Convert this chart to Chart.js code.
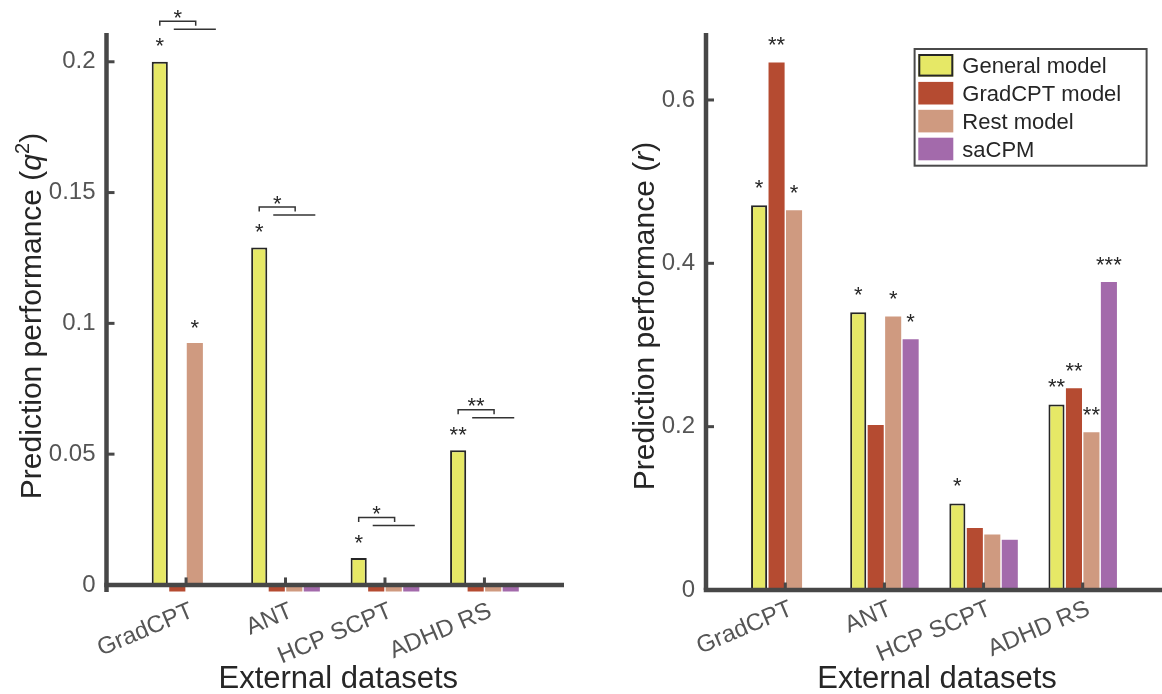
<!DOCTYPE html>
<html>
<head>
<meta charset="utf-8">
<script src="https://cdn.jsdelivr.net/npm/chart.js@4.4.1/dist/chart.umd.min.js"></script>
<style>
    body { margin: 0; background: #fff; width: 1162px; height: 694px; overflow: hidden; position: relative; }
    .panel { position: absolute; top: 0; height: 694px; }
    #leftBox { left: 0; width: 600px; }
    #rightBox { left: 600px; width: 562px; }
</style>
</head>
<body>
<div class="panel" id="leftBox"><canvas id="leftChart" width="600" height="694"></canvas></div>
<div class="panel" id="rightBox"><canvas id="rightChart" width="562" height="694"></canvas></div>
<script>
// === DATA ===
const datasets = ["GradCPT", "ANT", "HCP SCPT", "ADHD RS"];
const models = ["General model", "GradCPT model", "Rest model", "saCPM"];

// left panel: q^2
const q2General = [0.200, 0.129, 0.0103, 0.0515];
const q2GradCPT = [-0.0025, -0.0025, -0.0025, -0.0025];
const q2Rest    = [0.0925, -0.0025, -0.0025, -0.0025];
const q2saCPM   = [null, -0.0025, -0.0025, -0.0025];
const q2Ticks = [0, 0.05, 0.1, 0.15, 0.2];
const q2TickLabels = ["0", "0.05", "0.1", "0.15", "0.2"];

// right panel: r
const rGeneral = [0.471, 0.340, 0.106, 0.227];
const rGradCPT = [0.646, 0.202, 0.076, 0.247];
const rRest    = [0.465, 0.335, 0.068, 0.193];
const rsaCPM   = [null, 0.307, 0.0615, 0.377];
const rTicks = [0, 0.2, 0.4, 0.6];
const rTickLabels = ["0", "0.2", "0.4", "0.6"];

// significance marks per bar
const q2StarsGeneral = ["*", "*", "*", "**"];
const q2StarsGradCPT = ["", "", "", ""];
const q2StarsRest    = ["*", "", "", ""];
const q2StarsSaCPM   = ["", "", "", ""];
const q2Compare      = ["*", "*", "*", "**"];   // general vs. the others

const rStarsGeneral = ["*", "*", "*", "**"];
const rStarsGradCPT = ["**", "", "", "**"];
const rStarsRest    = ["*", "*", "", "**"];
const rStarsSaCPM   = ["", "*", "", "***"];

// === STYLE ===
const FONT = "'Liberation Sans', Helvetica, Arial, sans-serif";
const AXIS_COLOR = "#474747";
const TEXT_DARK = "#262626";
const TICK_COLOR = "#555555";
const COLORS = ["#e6e866", "#b54b31", "#cf9a80", "#a36aab"];

function series(vals) {
    return vals.map((v, i) => ({ x: i + 1, y: v }));
}

function makeDatasets(lists) {
    return lists.map((vals, d) => ({
        label: models[d],
        data: series(vals),
        backgroundColor: COLORS[d],
        borderColor: d === 0 ? TEXT_DARK : COLORS[d],
        borderWidth: d === 0 ? 2 : 0,
        borderSkipped: false,
        categoryPercentage: 0.705,
        barPercentage: 0.92
    }));
}

function seg(ctx, x1, y1, x2, y2) {
    ctx.beginPath();
    ctx.moveTo(x1, y1);
    ctx.lineTo(x2, y2);
    ctx.stroke();
}

function star(ctx, text, x, cy) {
    ctx.font = "22px " + FONT;
    ctx.fillStyle = TEXT_DARK;
    ctx.textAlign = "center";
    ctx.textBaseline = "alphabetic";
    ctx.fillText(text, x, cy + 0.575 * 22);
}

function drawYTitle(ctx, parts, bx, cy) {
    const fs = 30;
    const fontOf = p => p.sup ? "20px " + FONT : (p.italic ? "italic " : "") + fs + "px " + FONT;
    ctx.save();
    let total = 0;
    const widths = parts.map(p => { ctx.font = fontOf(p); const w = ctx.measureText(p.t).width; total += w; return w; });
    ctx.translate(bx, cy);
    ctx.rotate(-Math.PI / 2);
    ctx.fillStyle = TEXT_DARK;
    ctx.textAlign = "left";
    ctx.textBaseline = "alphabetic";
    let x = -total / 2;
    parts.forEach((p, k) => {
        ctx.font = fontOf(p);
        ctx.fillText(p.t, x, p.sup ? -12 : 0);
        x += widths[k];
    });
    ctx.restore();
}

// === DECORATION PLUGIN: axes, inward ticks, stars, brackets, titles, legend ===
const decor = {
    id: "decor",
    afterDatasetsDraw(chart, args, o) {
        const { ctx, chartArea: a, scales } = chart;
        const xs = scales.x, ys = scales.y;
        const y0 = ys.getPixelForValue(0);
        ctx.save();
        ctx.strokeStyle = AXIS_COLOR;
        ctx.lineCap = "butt";

        ctx.lineWidth = 3;
        o.yTicks.forEach(v => { const y = ys.getPixelForValue(v); seg(ctx, a.left, y, a.left + 8, y); });
        xs.ticks.forEach((t, i) => { const x = xs.getPixelForTick(i); seg(ctx, x, y0, x, y0 - 7.5); });

        ctx.lineWidth = 4.5;
        seg(ctx, a.left, a.top, a.left, a.bottom);
        seg(ctx, a.left - 2.25, y0, a.right, y0);

        // stars above bars
        o.stars.forEach((list, d) => {
            const meta = chart.getDatasetMeta(d);
            list.forEach((s, i) => {
                if (!s) return;
                const bar = meta.data[i];
                star(ctx, s, bar.x, bar.y - o.starGap);
            });
        });

        // comparison brackets
        if (o.compare) {
            const m0 = chart.getDatasetMeta(0), m1 = chart.getDatasetMeta(1);
            o.compare.forEach((s, i) => {
                if (!s) return;
                const g = m0.data[i];
                const step = m1.data[i].x - g.x;
                const top = g.y;
                const bx2 = g.x + 2.05 * step;
                ctx.strokeStyle = "#333";
                ctx.lineWidth = 1.5;
                ctx.beginPath();
                ctx.moveTo(g.x, top - 36);
                ctx.lineTo(g.x, top - 40.5);
                ctx.lineTo(bx2, top - 40.5);
                ctx.lineTo(bx2, top - 36);
                ctx.stroke();
                seg(ctx, g.x + 0.8 * step, top - 32.5, g.x + 3.2 * step, top - 32.5);
                star(ctx, s, (g.x + bx2) / 2, top - 49.5);
            });
        }

        // axis titles
        drawYTitle(ctx, o.yTitle, o.yTitleX, 316);
        ctx.font = "31px " + FONT;
        ctx.fillStyle = TEXT_DARK;
        ctx.textAlign = "center";
        ctx.textBaseline = "alphabetic";
        ctx.fillText("External datasets", (a.left + a.right) / 2 + 3, 688);

        // legend
        if (o.legend) {
            const L = o.legend;
            ctx.fillStyle = "#fff";
            ctx.fillRect(L.x, L.y, L.w, L.h);
            ctx.strokeStyle = "#4a4a4a";
            ctx.lineWidth = 2;
            ctx.strokeRect(L.x, L.y, L.w, L.h);
            chart.data.datasets.forEach((ds, d) => {
                const cy = L.y + 16.3 + d * 27.9;
                ctx.fillStyle = ds.backgroundColor;
                ctx.fillRect(L.x + 3.7, cy - 11.3, 35, 22.6);
                if (ds.borderWidth) {
                    ctx.strokeStyle = ds.borderColor;
                    ctx.lineWidth = 2;
                    ctx.strokeRect(L.x + 4.7, cy - 10.3, 33, 20.6);
                }
                ctx.fillStyle = TEXT_DARK;
                ctx.font = "22px " + FONT;
                ctx.textAlign = "left";
                ctx.fillText(ds.label, L.x + 47.7, cy + 8);
            });
        }
        ctx.restore();
    }
};

function makeChart(id, lists, cfg) {
    return new Chart(document.getElementById(id).getContext("2d"), {
        type: "bar",
        data: { datasets: makeDatasets(lists) },
        plugins: [decor],
        options: {
            responsive: false,
            animation: false,
            layout: { padding: { top: 33, right: cfg.padRight, left: 0, bottom: 0 } },
            plugins: {
                legend: { display: false },
                tooltip: { enabled: false },
                decor: cfg.decor
            },
            scales: {
                x: {
                    type: "linear",
                    min: 0.2,
                    max: 4.8,
                    offset: false,
                    grid: { display: false, drawTicks: false },
                    border: { display: false },
                    afterBuildTicks: s => { s.ticks = datasets.map((_, i) => ({ value: i + 1 })); },
                    afterFit: s => { s.height = cfg.xHeight; },
                    ticks: {
                        autoSkip: false,
                        minRotation: 23,
                        maxRotation: 23,
                        padding: 5,
                        labelOffset: 6,
                        color: TICK_COLOR,
                        font: { family: FONT, size: 24 },
                        callback: (v, i) => datasets[i]
                    }
                },
                y: {
                    min: cfg.yMin,
                    max: cfg.yMax,
                    grid: { display: false, drawTicks: false },
                    border: { display: false },
                    afterBuildTicks: s => { s.ticks = cfg.yTicks.map(v => ({ value: v })); },
                    afterFit: s => { s.width = cfg.yWidth; },
                    ticks: {
                        padding: 11,
                        color: TICK_COLOR,
                        font: { family: FONT, size: 24 },
                        callback: (v, i) => cfg.yTickLabels[i]
                    }
                }
            }
        }
    });
}

// === LEFT: q^2 ===
makeChart("leftChart", [q2General, q2GradCPT, q2Rest, q2saCPM], {
    padRight: 36, xHeight: 102, yWidth: 106.5,
    yMin: -0.0027, yMax: 0.211, yTicks: q2Ticks, yTickLabels: q2TickLabels,
    decor: {
        yTicks: q2Ticks,
        stars: [q2StarsGeneral, q2StarsGradCPT, q2StarsRest, q2StarsSaCPM],
        compare: q2Compare,
        starGap: 21,
        yTitle: [{ t: "Prediction performance (" }, { t: "q", italic: true }, { t: "2", sup: true }, { t: ")" }],
        yTitleX: 40.5,
        legend: null
    }
});

// === RIGHT: r ===
makeChart("rightChart", [rGeneral, rGradCPT, rRest, rsaCPM], {
    padRight: 0, xHeight: 104, yWidth: 106,
    yMin: 0, yMax: 0.682, yTicks: rTicks, yTickLabels: rTickLabels,
    decor: {
        yTicks: rTicks,
        stars: [rStarsGeneral, rStarsGradCPT, rStarsRest, rStarsSaCPM],
        compare: null,
        starGap: 23,
        yTitle: [{ t: "Prediction performance (" }, { t: "r", italic: true }, { t: ")" }],
        yTitleX: 53.5,
        legend: { x: 314.6, y: 49, w: 232, h: 116.7 }
    }
});
</script>
</body>
</html>
